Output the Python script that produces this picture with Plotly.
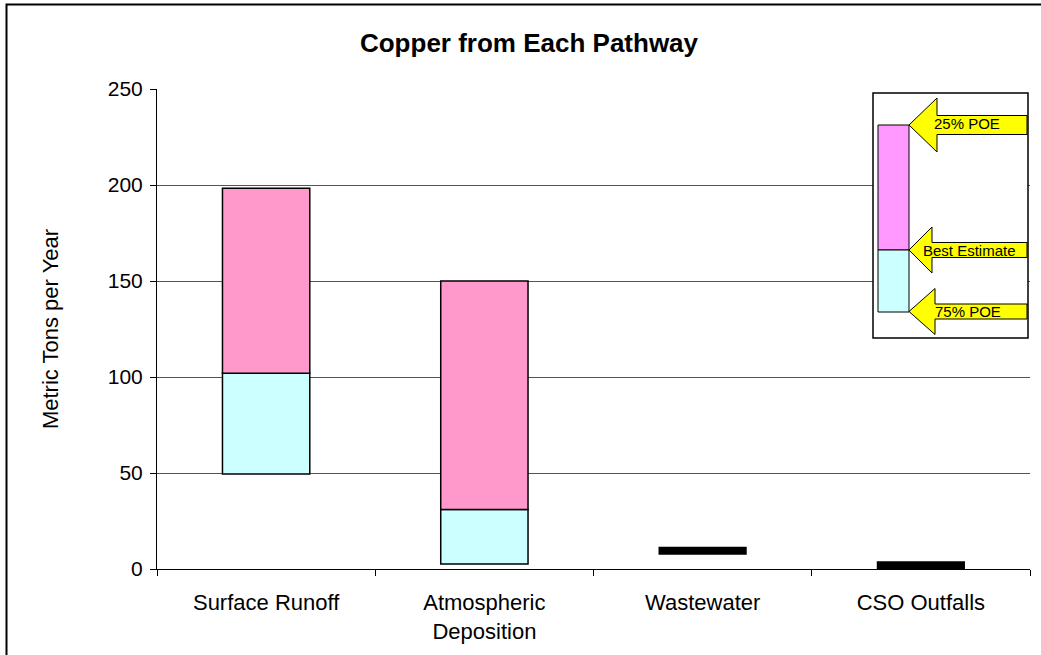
import plotly.graph_objects as go

# ---- data ----
categories = ["Surface Runoff", "Atmospheric<br>Deposition", "Wastewater", "CSO Outfalls"]
poe75 = [49.5, 2.6, None, None]        # lower bound (75% probability of exceedance)
best_estimate = [102.0, 31.0, 9.5, 2.0]
poe25 = [198.3, 150.0, None, None]      # upper bound (25% probability of exceedance)
y_ticks = [0, 50, 100, 150, 200, 250]
legend_labels = ["25% POE", "Best Estimate", "75% POE"]

PINK = "#FF99CC"
CYAN = "#CCFFFF"
FONT = "Liberation Sans, Arial, sans-serif"

# range bars (first two pathways) and single-value pathways
rng_idx = [i for i in range(len(categories)) if poe75[i] is not None]
pt_idx = [i for i in range(len(categories)) if poe75[i] is None]

fig = go.Figure()
fig.add_trace(go.Bar(
    x=[categories[i] for i in rng_idx],
    base=[poe75[i] for i in rng_idx],
    y=[best_estimate[i] - poe75[i] for i in rng_idx],
    marker=dict(color=CYAN, line=dict(color="black", width=1.5)),
    width=0.4, showlegend=False, hoverinfo="skip"))
fig.add_trace(go.Bar(
    x=[categories[i] for i in rng_idx],
    base=[best_estimate[i] for i in rng_idx],
    y=[poe25[i] - best_estimate[i] for i in rng_idx],
    marker=dict(color=PINK, line=dict(color="black", width=1.5)),
    width=0.4, showlegend=False, hoverinfo="skip"))
fig.add_trace(go.Scatter(
    x=[categories[i] for i in pt_idx],
    y=[best_estimate[i] for i in pt_idx],
    mode="markers",
    marker=dict(symbol="line-ew", size=63, color="black",
                line=dict(color="black", width=8)),
    showlegend=False, hoverinfo="skip", cliponaxis=False))

# ---- layout geometry in pixels ----
W, H = 1041, 655
L, R, T, B = 157, 1030, 89, 569

def px(x):
    return (x - L) / (R - L)

def py(y):
    return (B - y) / (B - T)

shapes = []
# outer chart frame
shapes.append(dict(type="rect", xref="paper", yref="paper",
                   x0=px(6.5), x1=px(1060), y0=py(4.5), y1=py(700),
                   line=dict(color="black", width=2), fillcolor="rgba(0,0,0,0)"))
# inset legend box
shapes.append(dict(type="rect", xref="paper", yref="paper",
                   x0=px(873), x1=px(1028), y0=py(93), y1=py(338),
                   line=dict(color="black", width=1.5), fillcolor="white"))
shapes.append(dict(type="rect", xref="paper", yref="paper",
                   x0=px(878), x1=px(909), y0=py(125), y1=py(250),
                   line=dict(color="black", width=1), fillcolor="#FF99FF"))
shapes.append(dict(type="rect", xref="paper", yref="paper",
                   x0=px(878), x1=px(909), y0=py(250), y1=py(312),
                   line=dict(color="black", width=1), fillcolor=CYAN))

def arrow(tip_y, head_half, shaft_half, head_x, tip_x=909, end_x=1027):
    pts = [(tip_x, tip_y), (head_x, tip_y - head_half), (head_x, tip_y - shaft_half),
           (end_x, tip_y - shaft_half), (end_x, tip_y + shaft_half),
           (head_x, tip_y + shaft_half), (head_x, tip_y + head_half)]
    path = "M " + " L ".join(f"{px(a):.5f},{py(b):.5f}" for a, b in pts) + " Z"
    return dict(type="path", xref="paper", yref="paper", path=path,
                fillcolor="#FFFF00", line=dict(color="black", width=1))

shapes.append(arrow(125, 27, 9.5, 937))
shapes.append(arrow(250, 23, 7.5, 932))
shapes.append(arrow(311.5, 23, 7.5, 935))

annotations = []
for lbl, xl, yc in zip(legend_labels, [932, 921, 933], [124, 250, 311.5]):
    annotations.append(dict(text=lbl, xref="paper", yref="paper",
                            x=px(xl), y=py(yc), xanchor="left", yanchor="middle",
                            showarrow=False, font=dict(family=FONT, size=15, color="black")))

fig.update_layout(
    width=W, height=H,
    margin=dict(l=L, r=W - R, t=T, b=H - B, pad=0),
    paper_bgcolor="white", plot_bgcolor="white",
    barmode="overlay", bargap=0.6,
    title=dict(text="<b>Copper from Each Pathway</b>", x=529 / W, xanchor="center",
               y=1 - 43 / H, yanchor="middle", yref="container",
               font=dict(family=FONT, size=26, color="black")),
    xaxis=dict(type="category", categoryorder="array", categoryarray=categories,
               tickson="boundaries", ticks="outside", ticklen=6, tickcolor="black",
               showline=True, linecolor="black", linewidth=1, showgrid=False,
               tickfont=dict(family=FONT, size=22, color="black"),
               ticklabelstandoff=14, range=[-0.5, 3.5]),
    yaxis=dict(range=[0, 250], tickvals=y_ticks, ticks="outside", ticklen=6,
               tickcolor="black", showline=True, linecolor="black", linewidth=1,
               showgrid=False, zeroline=False,
               minor=dict(tickvals=y_ticks[1:-1], showgrid=True, gridcolor="#555555",
                          gridwidth=1, ticks=""),
               tickfont=dict(family=FONT, size=21, color="black"),
               ticklabelstandoff=3,
               title=dict(text="Metric Tons per Year", standoff=43,
                          font=dict(family=FONT, size=22, color="black"))),
    shapes=shapes, annotations=annotations,
)

fig.write_html("out.html", config={"displayModeBar": False},
               post_script="document.body.style.margin='0';document.body.style.overflow='hidden';")
